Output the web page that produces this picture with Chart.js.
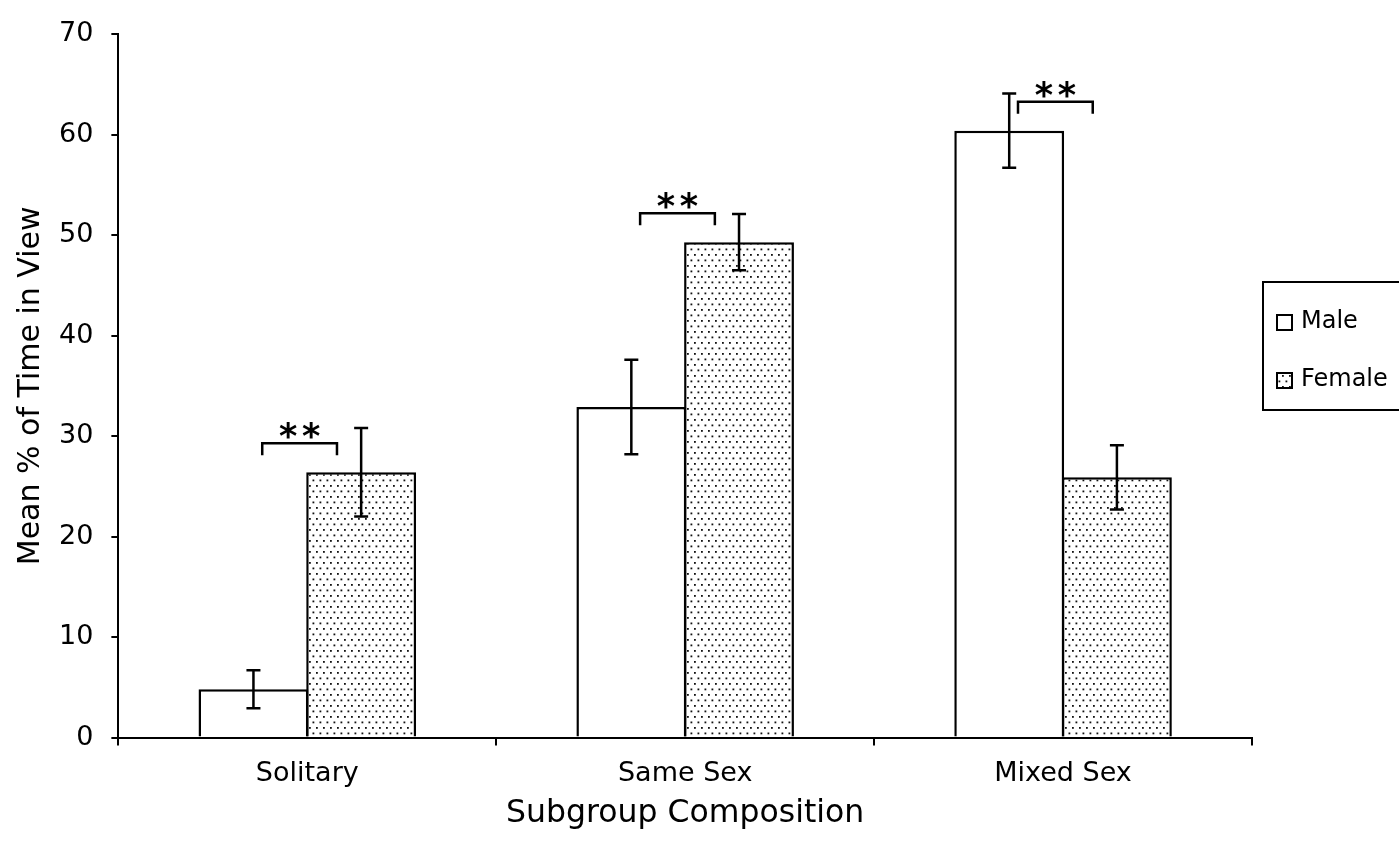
<!DOCTYPE html>
<html><head><meta charset="utf-8">
<script src="https://cdn.jsdelivr.net/npm/chart.js@4/dist/chart.umd.min.js"></script>
<style>html,body{margin:0;padding:0;background:#fff;overflow:hidden}canvas{display:block}</style>
</head><body>
<canvas id="c" width="1399" height="841"></canvas>
<script>
// ---- data ----
const categories = ['Solitary', 'Same Sex', 'Mixed Sex'];
const seriesNames = ['Male', 'Female'];
const maleValues = [4.8, 32.9, 60.4];
const femaleValues = [26.4, 49.3, 25.9];
const maleErrors = [1.9, 4.7, 3.7];
const femaleErrors = [4.4, 2.8, 3.2];
const significance = ['**', '**', '**'];
const yTickValues = [0, 10, 20, 30, 40, 50, 60, 70];
const xTitle = 'Subgroup Composition';
const yTitle = 'Mean % of Time in View';

const FONT = 'DejaVu Sans';

// dotted pattern for Female bars
function makeDots() {
  const t = document.createElement('canvas');
  t.width = 7; t.height = 11;
  const g = t.getContext('2d');
  g.fillStyle = '#fff'; g.fillRect(0, 0, 7, 11);
  g.fillStyle = '#111';
  g.fillRect(1, 1, 1.8, 1.8);
  g.fillRect(4.5, 6.5, 1.8, 1.8);
  return g.createPattern(t, 'repeat');
}
const ctx = document.getElementById('c').getContext('2d');
const dots = makeDots();

const errorSets = [maleErrors, femaleErrors];

const errorBarPlugin = {
  id: 'errorBars',
  afterDatasetsDraw(chart) {
    const c = chart.ctx, ys = chart.scales.y;
    c.save();
    c.strokeStyle = '#000'; c.lineWidth = 2.5;
    chart.data.datasets.forEach((ds, i) => {
      const meta = chart.getDatasetMeta(i);
      meta.data.forEach((bar, j) => {
        const v = ds.data[j], e = errorSets[i][j];
        const yt = ys.getPixelForValue(v + e), yb = ys.getPixelForValue(v - e);
        const x = bar.x, cap = 7;
        c.beginPath();
        c.moveTo(x, yt); c.lineTo(x, yb);
        c.moveTo(x - cap, yt); c.lineTo(x + cap, yt);
        c.moveTo(x - cap, yb); c.lineTo(x + cap, yb);
        c.stroke();
      });
    });
    c.restore();
  }
};

const bracketPlugin = {
  id: 'brackets',
  afterDatasetsDraw(chart) {
    const c = chart.ctx, ys = chart.scales.y;
    const m0 = chart.getDatasetMeta(0), m1 = chart.getDatasetMeta(1);
    c.save();
    c.strokeStyle = '#000'; c.fillStyle = '#000'; c.lineWidth = 2.5;
    c.font = 'bold 35px "' + FONT + '"';
    c.textAlign = 'center'; c.textBaseline = 'alphabetic';
    categories.forEach((cat, j) => {
      const b0 = m0.data[j], b1 = m1.data[j];
      const w = b0.width;
      const left = b0.x + 0.08 * w, right = b1.x - 0.22 * w;
      const top = ys.getPixelForValue(Math.max(maleValues[j], femaleValues[j])) - 29;
      c.beginPath();
      c.moveTo(left, top + 12); c.lineTo(left, top); c.lineTo(right, top); c.lineTo(right, top + 12);
      c.stroke();
      const cx = (left + right) / 2;
      const stars = significance[j].split('');
      const gap = 23;
      stars.forEach((s, k) => {
        c.fillText(s, cx + (k - (stars.length - 1) / 2) * gap, top + 5);
      });
    });
    c.restore();
  }
};

const legendPlugin = {
  id: 'boxLegend',
  afterDraw(chart) {
    const c = chart.ctx;
    c.save();
    c.strokeStyle = '#000'; c.lineWidth = 2;
    c.strokeRect(1263, 282, 160, 128);
    c.font = '24px "' + FONT + '"';
    c.textBaseline = 'middle'; c.textAlign = 'left';
    chart.data.datasets.forEach((ds, i) => {
      const cy = 322 + i * 58;
      c.fillStyle = ds.backgroundColor;
      c.fillRect(1277, cy - 7, 15, 15);
      c.lineWidth = 2;
      c.strokeRect(1277, cy - 7, 15, 15);
      c.fillStyle = '#000';
      c.fillText(ds.label, 1301, cy);
    });
    c.restore();
  }
};

new Chart(ctx, {
  type: 'bar',
  data: {
    labels: categories,
    datasets: [
      { label: seriesNames[0], data: maleValues, backgroundColor: '#fff', borderColor: '#000', borderWidth: 2.5,
        categoryPercentage: 0.57, barPercentage: 1.02 },
      { label: seriesNames[1], data: femaleValues, backgroundColor: dots, borderColor: '#000', borderWidth: 2.5,
        categoryPercentage: 0.57, barPercentage: 1.02 }
    ]
  },
  options: {
    responsive: false, animation: false, devicePixelRatio: 1,
    layout: { padding: { left: 13, right: 147, top: 16, bottom: 11 } },
    plugins: { legend: { display: false }, tooltip: { enabled: false } },
    scales: {
      x: {
        grid: { display: true, drawOnChartArea: false, drawTicks: true, tickLength: 8, offset: true, color: '#000', lineWidth: 2 },
        border: { color: '#000', width: 2 },
        ticks: { color: '#000', font: { family: FONT, size: 27, lineHeight: 1.0 }, padding: 15 },
        title: { display: true, text: xTitle, color: '#000', font: { family: FONT, size: 31.5, lineHeight: 1.0 }, padding: { top: -4, bottom: 0 } }
      },
      y: {
        min: 0, max: 70,
        afterBuildTicks(axis) { axis.ticks = yTickValues.map(v => ({ value: v })); },
        grid: { display: true, drawOnChartArea: false, drawTicks: true, tickLength: 7, color: '#000', lineWidth: 2 },
        border: { color: '#000', width: 2 },
        ticks: { color: '#000', font: { family: FONT, size: 27 }, padding: 18 },
        title: { display: true, text: yTitle, color: '#000', font: { family: FONT, size: 30 }, padding: { top: 0, bottom: -8 } }
      }
    }
  },
  plugins: [errorBarPlugin, bracketPlugin, legendPlugin]
});
</script>
</body></html>
